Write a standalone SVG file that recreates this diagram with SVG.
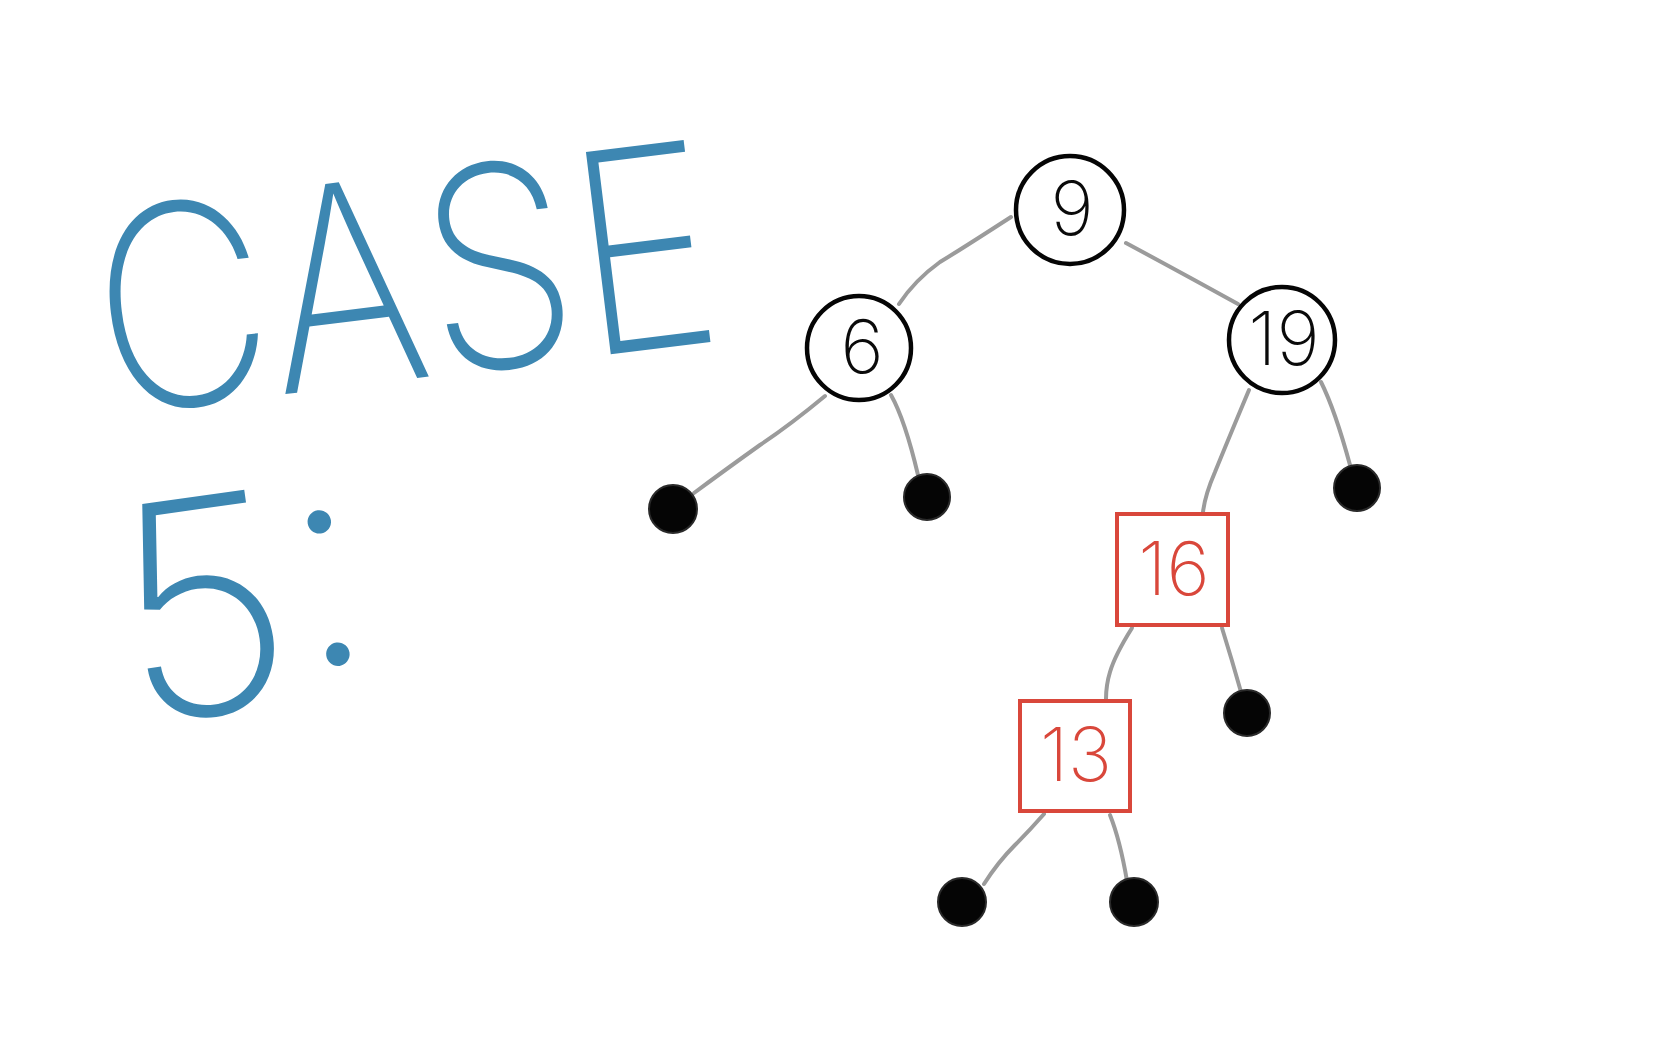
<svg xmlns="http://www.w3.org/2000/svg" width="1674" height="1048" viewBox="0 0 1674 1048">
<style>
.edge{fill:none;stroke:#9b9b9b;stroke-width:4;stroke-linecap:round}
.circ{fill:#fff;stroke:#050505;stroke-width:4.5}
.leaf{fill:#050505;stroke:#2a2a2a;stroke-width:2}
.sq{fill:#fff;stroke:#d9473b;stroke-width:4}
.num{font-family:Inter,"Open Sans","DejaVu Sans",sans-serif;font-weight:200;font-size:74px;text-anchor:middle;dominant-baseline:central}
.blk{fill:#0a0a0a}
.red{fill:#d9473b}
.title{font-family:Inter,Lato,"DejaVu Sans",sans-serif;font-weight:150;fill:#3d87b2}
</style>
<rect width="1674" height="1048" fill="#fff"/>
<g id="title">
<text class="title" x="107" y="416" font-size="280" textLength="625" lengthAdjust="spacingAndGlyphs" transform="rotate(-7 107 416)">CASE</text>
<text class="title" x="131" y="726" font-size="300" transform="rotate(-8 131 726)">5:</text>
</g>
<g id="connectors">
<path class="edge" d="M1011,217 Q960,250 940,262 Q915,280 899,304"/>
<path class="edge" d="M1126,243 Q1180,272 1238,304"/>
<path class="edge" d="M825,396 Q790,425 760,445 Q725,470 694,493"/>
<path class="edge" d="M891,395 Q905,420 918,475"/>
<path class="edge" d="M1249,390 Q1228,440 1215,472 Q1205,495 1203,512"/>
<path class="edge" d="M1321,382 Q1335,410 1350,465"/>
<path class="edge" d="M1132,628 Q1115,655 1110,672 Q1106,685 1106,699"/>
<path class="edge" d="M1222,628 Q1232,660 1241,692"/>
<path class="edge" d="M1044,814 Q1030,830 1015,845 Q998,862 984,884"/>
<path class="edge" d="M1110,815 Q1120,840 1127,881"/>
</g>
<g id="node-9"><circle class="circ" cx="1070" cy="210" r="54"/><text class="num blk" x="1072" y="208">9</text></g>
<g id="node-6"><circle class="circ" cx="859" cy="348" r="52"/><text class="num blk" x="862" y="346">6</text></g>
<g id="node-19"><circle class="circ" cx="1282" cy="340" r="53"/><text class="num blk" x="1284" y="338">19</text></g>
<g id="node-16"><rect class="sq" x="1117" y="514" width="111" height="111"/><text class="num red" x="1174" y="568">16</text></g>
<g id="node-13"><rect class="sq" x="1020" y="701" width="110" height="110"/><text class="num red" x="1076" y="754">13</text></g>
<g id="leaf-1"><circle class="leaf" cx="673" cy="509" r="24"/></g>
<g id="leaf-2"><circle class="leaf" cx="927" cy="497" r="23"/></g>
<g id="leaf-3"><circle class="leaf" cx="1357" cy="488" r="23"/></g>
<g id="leaf-4"><circle class="leaf" cx="1247" cy="713" r="23"/></g>
<g id="leaf-5"><circle class="leaf" cx="962" cy="902" r="24"/></g>
<g id="leaf-6"><circle class="leaf" cx="1134" cy="902" r="24"/></g>
</svg>
